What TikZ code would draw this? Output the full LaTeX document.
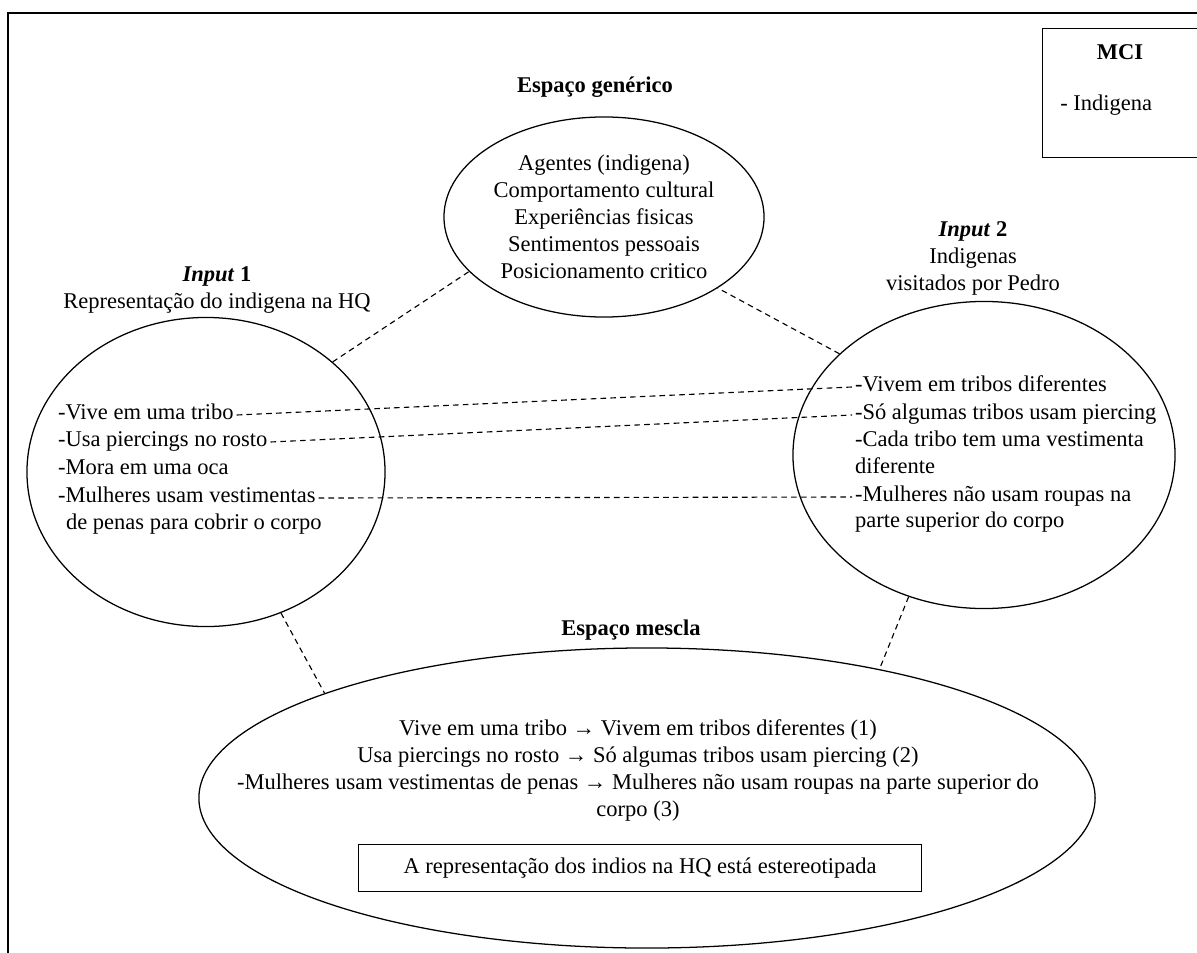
\documentclass[tikz,border=0pt]{standalone}
\usepackage{fontspec}
\setmainfont{Liberation Serif}
\usetikzlibrary{calc,positioning,shapes.geometric}
\tikzset{
 cb frame/.style={line width=1.6pt},
 cb space/.style={ellipse,draw,line width=0.9pt,inner sep=0pt},
 cb box/.style={rectangle,draw,line width=0.9pt,inner sep=0pt},
 cb text/.style={font=\fontsize{16}{19.2}\selectfont,inner sep=0pt},
 cb title/.style={cb text,font=\fontsize{16}{19.2}\selectfont\bfseries},
 cb item/.style={cb text,anchor=west,inner xsep=2pt,text height=11pt,text depth=4pt},
 cb link/.style={dash pattern=on 4pt off 3pt,line width=0.8pt}
}
\begin{document}
\begin{tikzpicture}[x=0.025cm,y=-0.025cm]
 \useasboundingbox (0,0) rectangle (1197,953);
 \clip (0,0) rectangle (1197,953);
 \draw[cb frame] (8,13) rectangle (1230,990);
 \node[cb box,anchor=north west,minimum width=5cm,minimum height=3.225cm] (mci) at (1042,28) {};
 \node[cb title] (mcititle) at (1120,52) {MCI};
 \node[cb text,anchor=west] (mciitem) at (1060,105) {- Indigena};
 \node[cb title] (gentitle) at (595,87) {Espaço genérico};
 \node[cb space,minimum width=8cm,minimum height=5cm] (gen) at (604,217) {};
 \node[cb text,align=center] (gentext) at (gen.center)
   {Agentes (indigena)\\Comportamento cultural\\Experiências fisicas\\Sentimentos pessoais\\Posicionamento critico};
 \node[cb text,align=center] (in1title) at (217,290)
   {\textbf{\textit{Input} 1}\\Representação do indigena na HQ};
 \node[cb text,align=center] (in2title) at (973,258)
   {\textbf{\textit{Input} 2}\\Indigenas\\visitados por Pedro};
 \node[cb space,minimum width=8.95cm,minimum height=7.725cm] (in1) at (206,472) {};
 \node[cb space,minimum width=9.55cm,minimum height=7.675cm] (in2) at (984,455) {};
 \foreach \i/\y/\t in {1/415/-Vive em uma tribo,2/442/-Usa piercings no rosto,
                       3/470/-Mora em uma oca,4/498/-Mulheres usam vestimentas}{
   \node[cb item] (a\i) at (55,\y) {\t};
 }
 \node[cb item] (a5) at (63,525) {de penas para cobrir o corpo};
 \foreach \i/\y/\t in {1/387/-Vivem em tribos diferentes,2/415/-Só algumas tribos usam piercing,
                       3/442/-Cada tribo tem uma vestimenta,4/469/diferente,
                       5/497/-Mulheres não usam roupas na,6/523/parte superior do corpo}{
   \node[cb item] (b\i) at (852,\y) {\t};
 }
 \node[cb title] (blendtitle) at (631,630) {Espaço mescla};
 \node[cb space,minimum width=22.4cm,minimum height=7.5cm] (blend) at (647,798) {};
 \node[cb text,align=center] (blendtext) at (638,770)
   {Vive em uma tribo → Vivem em tribos diferentes (1)\\
    Usa piercings no rosto → Só algumas tribos usam piercing (2)\\
    -Mulheres usam vestimentas de penas → Mulheres não usam roupas na parte superior do\\
    corpo (3)};
 \node[cb box,cb text,minimum width=14.075cm,minimum height=1.175cm] (concl) at (640,868)
   {A representação dos indios na HQ está estereotipada};
 \draw[cb link] (a1.east) -- (b1.west);
 \draw[cb link] (a2.east) -- (b2.west);
 \draw[cb link] (a4.east) -- (b5.west);
 \draw[cb link] (in1.41) -- (gen.202);
 \draw[cb link] (in2.145) -- (gen.328);
 \draw[cb link] (in1.298) -- (blend.162);
 \draw[cb link] (in2.242) -- (blend.29);
\end{tikzpicture}
\end{document}
